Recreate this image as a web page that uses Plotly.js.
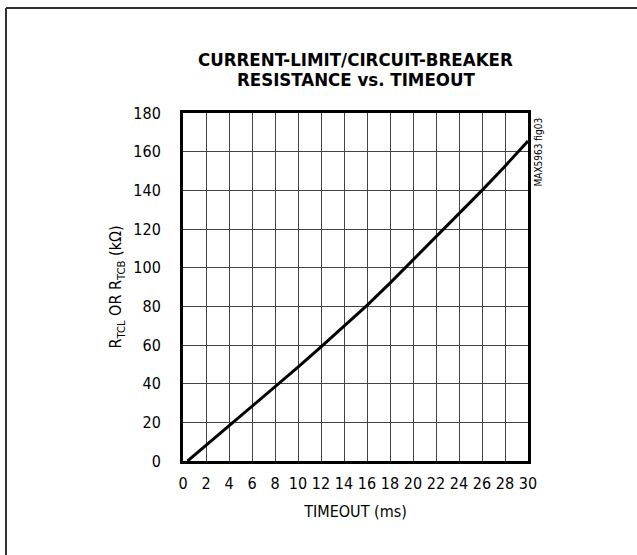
<!DOCTYPE html>
<html>
<head>
<meta charset="utf-8">
<script src="https://cdn.plot.ly/plotly-3.0.1.min.js"></script>
<style>html,body{margin:0;padding:0;background:#fff;}#chart{width:637px;height:555px;}</style>
</head>
<body>
<div id="chart"></div>
<script>
// Timeout (ms)
var timeoutMs = [0.4, 1, 2, 3, 4, 5, 6, 8, 10, 12, 14, 16, 18, 20, 22, 24, 26, 28, 30];
// Resistance (kOhm)
var resistanceK = [0, 3, 8, 13, 18.5, 23.5, 28.5, 38.5, 48.5, 59, 69.5, 80.5, 92, 104, 115.5, 127.5, 140, 152.5, 165.5];
var xTicks = [0, 2, 4, 6, 8, 10, 12, 14, 16, 18, 20, 22, 24, 26, 28, 30];
var yTicks = [0, 20, 40, 60, 80, 100, 120, 140, 160, 180];
var titleLines = ['CURRENT-LIMIT/CIRCUIT-BREAKER', 'RESISTANCE vs. TIMEOUT'];

var F = '"Liberation Sans Narrow", "DejaVu Sans Condensed", Arial, sans-serif';

var trace = {
  x: timeoutMs, y: resistanceK, type: 'scatter', mode: 'lines',
  line: {color: '#000', width: 3}, hoverinfo: 'skip'
};

var L = 183, R = 528, T = 113, B = 461;
function px(x){ return (x - L) / (R - L); }
function py(y){ return (B - y) / (B - T); }

var layout = {
  width: 637, height: 555,
  margin: {l: L, r: 637 - R, t: T, b: 555 - B, pad: 0},
  paper_bgcolor: '#fff', plot_bgcolor: '#fff',
  showlegend: false,
  xaxis: {
    range: [0, 30], tickvals: xTicks, ticktext: xTicks.map(String),
    showgrid: true, gridcolor: '#444', gridwidth: 1,
    showline: true, linecolor: '#000', linewidth: 3, mirror: true,
    zeroline: false, ticks: '', ticklabelstandoff: 6,
    tickfont: {family: F, size: 16, color: '#000'},
    title: {text: 'TIMEOUT (ms)', font: {family: F, size: 16, color: '#000'}, standoff: 14}
  },
  yaxis: {
    range: [0, 180], tickvals: yTicks, ticktext: yTicks.map(String),
    showgrid: true, gridcolor: '#444', gridwidth: 1,
    showline: true, linecolor: '#000', linewidth: 3, mirror: true,
    zeroline: false, ticks: '', ticklabelstandoff: 16,
    tickfont: {family: F, size: 16, color: '#000'},
    title: {text: 'R<sub>TCL</sub> OR R<sub>TCB</sub> (kΩ)', font: {family: F, size: 16, color: '#000'}, standoff: 8}
  },
  shapes: [
    {type: 'line', xref: 'paper', yref: 'paper', x0: px(6), x1: px(700), y0: py(8), y1: py(8), line: {color: '#333', width: 2}},
    {type: 'line', xref: 'paper', yref: 'paper', x0: px(6), x1: px(6), y0: py(8), y1: py(600), line: {color: '#333', width: 2}}
  ],
  annotations: [
    {text: '<b>' + titleLines[0] + '</b>', xref: 'paper', yref: 'paper', x: 0.5, y: py(59),
     xanchor: 'center', yanchor: 'middle', showarrow: false,
     font: {family: F, size: 18.5, color: '#000'}},
    {text: '<b>' + titleLines[1] + '</b>', xref: 'paper', yref: 'paper', x: 0.5, y: py(79),
     xanchor: 'center', yanchor: 'middle', showarrow: false,
     font: {family: F, size: 18.5, color: '#000'}},
    {text: 'MAX5963 fig03', xref: 'paper', yref: 'paper', x: px(538), y: py(116),
     xanchor: 'center', yanchor: 'top', textangle: -90, showarrow: false,
     font: {family: F, size: 10, color: '#000'}}
  ]
};

Plotly.newPlot('chart', [trace], layout, {displayModeBar: false, staticPlot: true});
</script>
</body>
</html>
